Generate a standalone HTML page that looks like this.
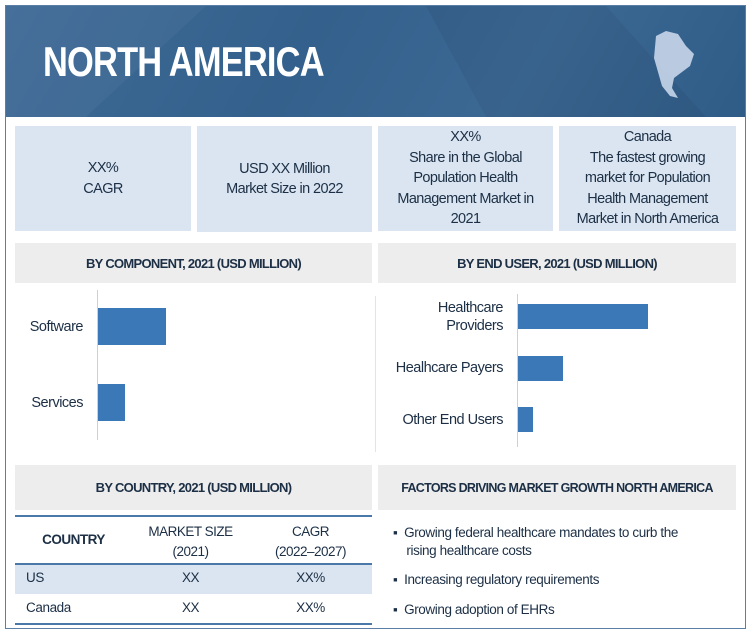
<!DOCTYPE html>
<html><head><meta charset="utf-8"><style>
body{margin:0;width:750px;height:633px;background:#fff;font-family:"Liberation Sans",sans-serif;color:#1c2f45;position:relative;overflow:hidden}
div{position:absolute;box-sizing:border-box}
.box{background:#dae5f1;display:flex;align-items:center;justify-content:center;text-align:center;font-size:14.5px;line-height:20.5px;letter-spacing:-0.6px}
.sh{background:#ededed;display:flex;align-items:center;justify-content:center;font-size:13px;font-weight:bold;letter-spacing:-0.7px;white-space:nowrap}
.lbl{font-size:14.5px;text-align:right;line-height:18px;letter-spacing:-0.5px}
.c{text-align:center;font-size:13.5px;letter-spacing:-0.5px}
.f{font-size:13.5px;letter-spacing:-0.4px}
</style></head><body>
<div style="left:5px;top:5px;width:741px;height:624px;border:1.5px solid #5a7ea6"></div>
<div style="left:6px;top:6px;width:739px;height:111px;background:linear-gradient(120deg,#3f6a96 0%,#33608c 40%,#3c6994 70%,#2f5b87 100%)">
<svg width="739" height="111" style="position:absolute;left:0;top:0"><polygon points="0,0 200,0 80,111 0,111" fill="#ffffff" opacity="0.04"/><polygon points="420,0 600,0 700,111 480,111" fill="#000" opacity="0.05"/>
<path d="M650,30 L660,25 L672,28 L680,40 L688,48 L684,60 L676,66 L668,72 L666,82 L672,92 L664,90 L656,80 L652,66 L648,52 Z" fill="#c8d6ea" opacity="0.9"/></svg></div>
<div style="left:43px;top:38px;font-size:42px;font-weight:bold;color:#fff;letter-spacing:-1px;transform:scaleX(0.82);transform-origin:left top;white-space:nowrap">NORTH AMERICA</div>
<div class="box" style="left:15px;top:126px;width:176px;height:105px">XX%<br>CAGR</div>
<div class="box" style="left:197px;top:126px;width:175px;height:106px">USD XX Million<br>Market Size in 2022</div>
<div class="box" style="left:378px;top:126px;width:175px;height:105px">XX%<br>Share in the Global<br>Population Health<br>Management Market in<br>2021</div>
<div class="box" style="left:559px;top:126px;width:177px;height:105px">Canada<br>The fastest growing<br>market for Population<br>Health Management<br>Market in North America</div>
<div class="sh" style="left:15px;top:243px;width:357px;height:40px">BY COMPONENT, 2021 (USD MILLION)</div>
<div class="sh" style="left:378px;top:243px;width:358px;height:40px">BY END USER, 2021 (USD MILLION)</div>
<div style="left:375px;top:296px;width:1px;height:156px;background:#e4e4e4"></div>
<div style="left:97px;top:290px;width:1px;height:150px;background:#d0d0d0"></div>
<div style="left:517px;top:294px;width:1px;height:153px;background:#d0d0d0"></div>
<div id="charts" style="left:0;top:0;width:750px;height:633px"></div>
<div class="sh" style="left:15px;top:465px;width:357px;height:45px">BY COUNTRY, 2021 (USD MILLION)</div>
<div class="sh" style="left:378px;top:465px;width:358px;height:45px;font-size:12.5px">FACTORS DRIVING MARKET GROWTH NORTH AMERICA</div>
<div style="left:15px;top:515px;width:357px;height:2px;background:#4a78a8"></div>
<div class="c" style="left:15px;top:532px;width:117px;font-weight:bold">COUNTRY</div>
<div class="c" style="left:132px;top:522px;width:117px;line-height:20px">MARKET SIZE<br>(2021)</div>
<div class="c" style="left:249px;top:522px;width:123px;line-height:20px">CAGR<br>(2022–2027)</div>
<div style="left:15px;top:563px;width:357px;height:31px;background:#dae5f1;border-top:2px solid #4a78a8"></div>
<div class="f" style="left:26px;top:570px">US</div>
<div class="c" style="left:132px;top:570px;width:117px">XX</div>
<div class="c" style="left:249px;top:570px;width:123px">XX%</div>
<div class="f" style="left:26px;top:600px">Canada</div>
<div class="c" style="left:132px;top:600px;width:117px">XX</div>
<div class="c" style="left:249px;top:600px;width:123px">XX%</div>
<div style="left:15px;top:623px;width:357px;height:2px;background:#4a78a8"></div>
<div class="f" style="left:393px;top:524px;line-height:18px;width:345px">▪&nbsp;&nbsp;Growing federal healthcare mandates to curb the<br>&nbsp;&nbsp;&nbsp;&nbsp;rising healthcare costs</div>
<div class="f" style="left:393px;top:572px">▪&nbsp;&nbsp;Increasing regulatory requirements</div>
<div class="f" style="left:393px;top:602px">▪&nbsp;&nbsp;Growing adoption of EHRs</div>
<script>
const compCats=["Software","Services"];
const compVals=[68,27];
const userCats=["Healthcare<br>Providers","Healhcare Payers","Other End Users"];
const userVals=[130,45,15];
const root=document.getElementById('charts');
function xScale(v){return v*1;}
function draw(cats,vals,x0,y0,step,h,name){
 cats.forEach((c,i)=>{
  const y=y0+i*step;
  const b=document.createElement('div');
  
  
  b.style.cssText=`left:${x0}px;top:${y}px;width:${xScale(vals[i])}px;height:${h}px;background:#3a78b8`;
  root.appendChild(b);
  const l=document.createElement('div');
  
  
  l.className='lbl';
  l.innerHTML=c;
  l.style.cssText=`right:${750-x0+15}px;top:${y+h/2}px;transform:translateY(-50%);white-space:nowrap`;
  root.appendChild(l);
 });
}
draw(compCats,compVals,98,308,76,37,'component');
draw(userCats,userVals,518,304,51.5,25,'end-user');
</script>
</body></html>
